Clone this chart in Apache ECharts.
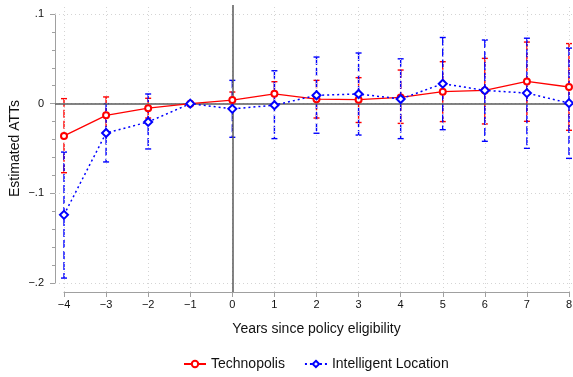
<!DOCTYPE html>
<html>
<head>
<meta charset="utf-8">
<script src="https://cdn.jsdelivr.net/npm/echarts@6/dist/echarts.min.js"></script>
<style>
html,body{margin:0;padding:0;background:#fff;}
#chart{width:573px;height:377px;}
</style>
</head>
<body>
<div id="chart"></div>
<script>
// ---- data ----
var years = [-4, -3, -2, -1, 0, 1, 2, 3, 4, 5, 6, 7, 8];
var techPoint = [-0.036, -0.013, -0.005, 0, 0.004, 0.011, 0.005, 0.0045, 0.007, 0.0134, 0.0148, 0.0248, 0.0186];
var techUpper = [0.0056, 0.0075, 0.006, 0, 0.013, 0.0245, 0.026, 0.029, 0.0375, 0.0468, 0.0505, 0.0687, 0.067];
var techLower = [-0.077, -0.033, -0.016, 0, -0.005, -0.0025, -0.016, -0.021, -0.022, -0.020, -0.0226, -0.0197, -0.0297];
var intlPoint = [-0.124, -0.0327, -0.0204, 0, -0.0058, -0.0017, 0.0093, 0.0108, 0.0052, 0.0223, 0.0148, 0.0118, 0.0006];
var intlUpper = [-0.054, 0.0, 0.0108, 0, 0.026, 0.0367, 0.052, 0.0565, 0.050, 0.0738, 0.071, 0.073, 0.062];
var intlLower = [-0.1945, -0.065, -0.0505, 0, -0.0375, -0.039, -0.033, -0.035, -0.039, -0.029, -0.042, -0.0498, -0.061];
var xTicks = [-4, -3, -2, -1, 0, 1, 2, 3, 4, 5, 6, 7, 8];
var yTicks = [-0.2, -0.1, 0, 0.1];
var seriesNames = ['Technopolis', 'Intelligent Location'];
var xTitle = 'Years since policy eligibility';
var yTitle = 'Estimated ATTs';

// ---- layout ----
var W = 573, H = 377;
var dataL = 64, dataR = 569, dataT = 14, dataB = 283;   // data range box
var regL = 55, regR = 573, regT = 5, regB = 292;         // plot region box
var xMin = -4, xMax = 8, yMin = -0.2, yMax = 0.1;
var pxX = (dataR - dataL) / (xMax - xMin);
var pxY = (dataB - dataT) / (yMax - yMin);
var rxMin = xMin - (dataL - regL) / pxX, rxMax = xMax + (regR - dataR) / pxX;
var ryMin = yMin - (regB - dataB) / pxY, ryMax = yMax + (dataT - regT) / pxY;

var FONT = 'Liberation Sans, Arial, Helvetica, sans-serif';
var RED = '#ff0000', BLUE = '#0000ff';

function fmtY(v) {
  v = Math.round(v * 10) / 10;
  if (v === 0) return '0';
  var s = String(Math.abs(v)).replace(/^0/, '');
  return (v < 0 ? '\u2212' : '') + s;
}
function fmtX(v) {
  return (v < 0 ? '\u2212' : '') + Math.abs(v);
}

function ciData(lo, hi) {
  return years.map(function (x, i) { return [x, lo[i], hi[i]]; });
}
function ciRender(color) {
  return function (params, api) {
    var x = api.value(0), lo = api.value(1), hi = api.value(2);
    var p1 = api.coord([x, hi]), p2 = api.coord([x, lo]);
    var cw = 3;
    var st = { stroke: color, lineWidth: 1.4, fill: null };
    return {
      type: 'group',
      children: [
        { type: 'line', shape: { x1: p1[0], y1: p1[1], x2: p2[0], y2: p2[1] },
          style: { stroke: color, lineWidth: 1.4, lineDash: [8, 3] } },
        { type: 'line', shape: { x1: p1[0] - cw, y1: p1[1], x2: p1[0] + cw, y2: p1[1] }, style: st },
        { type: 'line', shape: { x1: p2[0] - cw, y1: p2[1], x2: p2[0] + cw, y2: p2[1] }, style: st }
      ]
    };
  };
}

var gridLineStyle = { color: '#d4d4d4', type: [1, 3], width: 1 };
var zeroLineStyle = { color: '#5a5a5a', type: 'solid', width: 1.5 };
var markData = [];
xTicks.forEach(function (t) { markData.push({ xAxis: t, lineStyle: gridLineStyle }); });
yTicks.forEach(function (t) { markData.push({ yAxis: t, lineStyle: gridLineStyle }); });
markData.push({ yAxis: 0, lineStyle: zeroLineStyle });
markData.push({ xAxis: 0, lineStyle: zeroLineStyle });

var chart = echarts.init(document.getElementById('chart'), null, { renderer: 'canvas' });
var option = {
  backgroundColor: '#fff',
  animation: false,
  textStyle: { fontFamily: FONT },
  grid: [
    { left: dataL, right: W - dataR, top: dataT, bottom: H - dataB, containLabel: false, outerBoundsMode: 'none' },
    { left: regL, right: W - regR, top: regT, bottom: H - regB, containLabel: false, outerBoundsMode: 'none' }
  ],
  xAxis: [
    {
      type: 'value', gridIndex: 0, min: xMin, max: xMax, interval: 1, offset: regB - dataB,
      axisLine: { show: true, onZero: false, lineStyle: { color: '#a0a0a0', width: 1 } },
      axisTick: { show: true, length: 5, inside: false, lineStyle: { color: '#a0a0a0' } },
      axisLabel: { formatter: fmtX, color: '#111', fontSize: 11, margin: 7, fontFamily: FONT },
      splitLine: { show: false },
      name: xTitle, nameLocation: 'middle', nameGap: 30,
      nameTextStyle: { fontSize: 14, color: '#111', fontFamily: FONT }
    },
    { type: 'value', gridIndex: 1, min: rxMin, max: rxMax, show: false, splitLine: { show: false } }
  ],
  yAxis: [
    {
      type: 'value', gridIndex: 0, min: yMin, max: yMax, interval: 0.1, offset: dataL - regL,
      axisLine: { show: true, onZero: false, lineStyle: { color: '#a0a0a0', width: 1 } },
      axisTick: { show: true, length: 5, lineStyle: { color: '#a0a0a0' } },
      minorTick: { show: true, splitNumber: 5, length: 3, lineStyle: { color: '#a0a0a0' } },
      axisLabel: { formatter: fmtY, color: '#111', fontSize: 11, margin: 11, fontFamily: FONT },
      splitLine: { show: false },
      name: yTitle, nameLocation: 'middle', nameGap: 33, nameRotate: 90, nameMoveOverlap: false,
      nameTextStyle: { fontSize: 14, color: '#111', fontFamily: FONT }
    },
    { type: 'value', gridIndex: 1, min: ryMin, max: ryMax, show: false, splitLine: { show: false } }
  ],
  legend: {
    data: seriesNames,
    left: 178, top: 352,
    itemWidth: 22, itemHeight: 8, itemGap: 19,
    textStyle: { fontSize: 14, color: '#111', fontFamily: FONT }
  },
  series: [
    {
      type: 'line', xAxisIndex: 1, yAxisIndex: 1, data: [], silent: true, z: 1,
      symbol: 'none',
      markLine: { silent: true, symbol: ['none', 'none'], label: { show: false }, animation: false, data: markData }
    },
    {
      type: 'custom', name: 'ci1', xAxisIndex: 0, yAxisIndex: 0, z: 3,
      renderItem: ciRender(RED), data: ciData(techLower, techUpper), clip: false
    },
    {
      type: 'custom', name: 'ci2', xAxisIndex: 0, yAxisIndex: 0, z: 3,
      renderItem: ciRender(BLUE), data: ciData(intlLower, intlUpper), clip: false
    },
    {
      type: 'line', name: seriesNames[0], xAxisIndex: 0, yAxisIndex: 0, z: 5,
      data: years.map(function (x, i) { return [x, techPoint[i]]; }),
      symbol: 'emptyCircle', symbolSize: 6,
      lineStyle: { color: RED, width: 1.3, type: 'solid' },
      itemStyle: { color: RED, borderColor: RED, borderWidth: 1.2 }
    },
    {
      type: 'line', name: seriesNames[1], xAxisIndex: 0, yAxisIndex: 0, z: 6,
      data: years.map(function (x, i) { return [x, intlPoint[i]]; }),
      symbol: 'emptyDiamond', symbolSize: 8,
      lineStyle: { color: BLUE, width: 1.5, type: [2, 3] },
      itemStyle: { color: BLUE, borderColor: BLUE, borderWidth: 1.2 }
    }
  ]
};
chart.setOption(option);
</script>
</body>
</html>
